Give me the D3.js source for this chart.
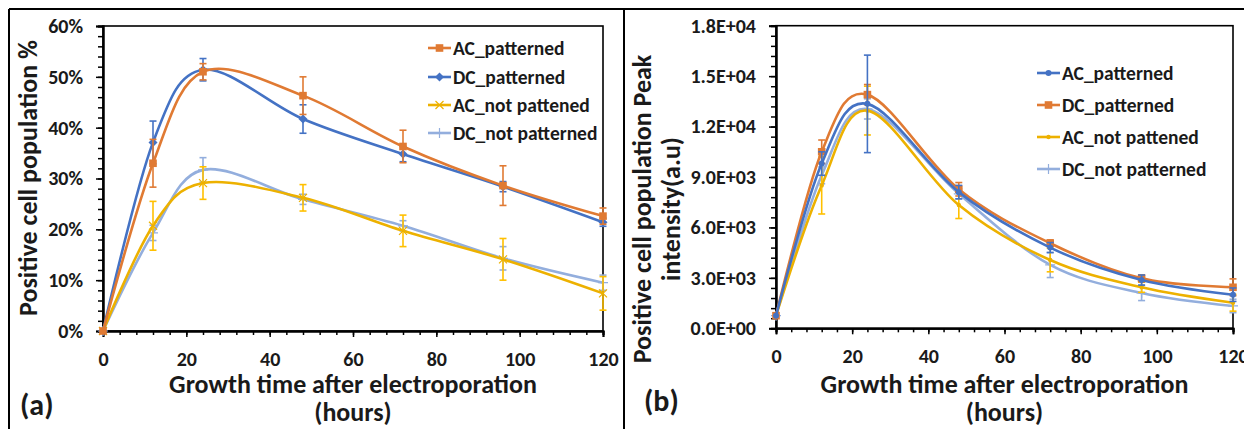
<!DOCTYPE html>
<html><head><meta charset="utf-8">
<script src="https://cdn.jsdelivr.net/npm/d3@7"></script>
<style>
body{margin:0;background:#fff;}
svg text{font-family:Carlito,Calibri,Lato,sans-serif;font-weight:bold;fill:#1a1a1a;}
</style>
</head><body><svg id="c" width="1244" height="429"></svg>
<script>
// ---------- DATA ----------
const hours = [0, 12, 24, 48, 72, 96, 120];
const seriesNames = ["AC_patterned", "DC_patterned", "AC_not pattened", "DC_not patterned"];

// Panel (a): positive cell population (%)
const aACpat = [0, 33.0, 51.0, 46.3, 36.3, 28.6, 22.6];
const aACpatErr = [0, 4.7, 1.6, 3.7, 3.2, 3.9, 1.6];
const aDCpat = [0, 37.1, 51.4, 41.7, 34.8, 28.4, 21.4];
const aDCpatErr = [0, 4.2, 2.2, 2.8, 1.5, 1.0, 0.8];
const aACnot = [0, 20.7, 29.1, 26.2, 19.7, 14.1, 7.4];
const aACnotErr = [0, 4.8, 3.2, 2.6, 3.1, 4.1, 3.3];
const aDCnot = [0, 19.3, 31.7, 25.9, 20.7, 14.3, 9.5];
const aDCnotErr = [0, 1.5, 2.4, 1.0, 1.0, 2.3, 1.5];
const aYTicks = [0, 10, 20, 30, 40, 50, 60];

// Panel (b): positive cell population peak intensity (a.u)
const bACpat = [750, 9800, 13350, 8100, 4800, 2870, 2000];
const bACpatErr = [0, 700, 2900, 400, 300, 300, 400];
const bDCpat = [750, 10500, 13900, 8270, 5060, 2970, 2440];
const bDCpatErr = [0, 700, 600, 400, 200, 200, 500];
const bACnot = [750, 8500, 12950, 7330, 4060, 2440, 1520];
const bACnotErr = [0, 1700, 1450, 800, 700, 300, 500];
const bDCnot = [750, 9100, 13050, 8000, 3770, 2100, 1330];
const bDCnotErr = [0, 500, 600, 300, 750, 450, 400];
const bYTicks = [0, 3000, 6000, 9000, 12000, 15000, 18000];

const xTicks = [0, 20, 40, 60, 80, 100, 120];

// ---------- STYLE ----------
const ORANGE = "#E07A33", BLUE = "#4472C4", GOLD = "#EDB100", GOLDERR = "#FFC000", LBLUE = "#93AEDD";

const svg = d3.select("#c");

// outer frame and divider
svg.append("line").attr("x1", 9).attr("x2", 1244).attr("y1", 9).attr("y2", 9).attr("stroke", "#000").attr("stroke-width", 2);
svg.append("line").attr("x1", 9).attr("x2", 9).attr("y1", 9).attr("y2", 429).attr("stroke", "#000").attr("stroke-width", 2);
svg.append("line").attr("x1", 624).attr("x2", 624).attr("y1", 9).attr("y2", 429).attr("stroke", "#000").attr("stroke-width", 2);

function marker(g, type, x, y, color) {
  if (type === "square") {
    g.append("rect").attr("x", x - 3.8).attr("y", y - 3.8).attr("width", 7.6).attr("height", 7.6).attr("fill", color);
  } else if (type === "diamond") {
    g.append("path").attr("d", `M${x},${y-4.5}L${x+4.5},${y}L${x},${y+4.5}L${x-4.5},${y}Z`).attr("fill", color);
  } else if (type === "x") {
    g.append("path").attr("d", `M${x-4},${y-4}L${x+4},${y+4}M${x-4},${y+4}L${x+4},${y-4}`).attr("stroke", color).attr("stroke-width", 1.2).attr("fill", "none");
  } else if (type === "plus") {
    g.append("path").attr("d", `M${x-5},${y}L${x+5},${y}M${x},${y-5}L${x},${y+5}`).attr("stroke", color).attr("stroke-width", 1.2).attr("fill", "none");
  } else if (type === "circle") {
    g.append("circle").attr("cx", x).attr("cy", y).attr("r", 3).attr("fill", color);
  } else if (type === "dot") {
    g.append("circle").attr("cx", x).attr("cy", y).attr("r", 2.2).attr("fill", color);
  }
}

function panel(cfg) {
  const x = d3.scaleLinear().domain([0, 120]).range([cfg.x0, cfg.x1]);
  const y = d3.scaleLinear().domain([0, cfg.yMax]).range([cfg.y0, cfg.y1]);
  const g = svg.append("g");

  // plot area frame
  g.append("rect").attr("x", cfg.x0).attr("y", cfg.y1).attr("width", cfg.x1 - cfg.x0).attr("height", cfg.y0 - cfg.y1)
    .attr("fill", "none").attr("stroke", "#000").attr("stroke-width", 1.6);

  // y axis (major + minor ticks)
  const yMinor = d3.range(0, cfg.yMax + 1e-9, cfg.yMax / 30);
  const yAxMinor = d3.axisLeft(y).tickValues(yMinor).tickSize(5).tickFormat("");
  const yAxMajor = d3.axisLeft(y).tickValues(cfg.yTicks).tickSize(7).tickPadding(13).tickFormat(cfg.yFmt);
  const ga1 = g.append("g").attr("transform", `translate(${cfg.x0},0)`).call(yAxMinor);
  const ga2 = g.append("g").attr("transform", `translate(${cfg.x0},0)`).call(yAxMajor);
  [ga1, ga2].forEach(a => { a.select(".domain").attr("stroke", "#000").attr("stroke-width", 2); a.selectAll("line").attr("stroke", "#000").attr("stroke-width", 1.5); });
  ga2.selectAll("text").style("font-size", cfg.tickFont + "px").attr("fill", "#1a1a1a");

  // x axis
  const xMinor = d3.range(0, 121, 4);
  const xAxMinor = d3.axisBottom(x).tickValues(xMinor).tickSize(4).tickFormat("");
  const xAxMajor = d3.axisBottom(x).tickValues(xTicks).tickSize(6).tickPadding(15).tickFormat(d3.format("d"));
  const gx1 = g.append("g").attr("transform", `translate(0,${cfg.y0})`).call(xAxMinor);
  const gx2 = g.append("g").attr("transform", `translate(0,${cfg.y0})`).call(xAxMajor);
  [gx1, gx2].forEach(a => { a.select(".domain").attr("stroke", "#000").attr("stroke-width", 2); a.selectAll("line").attr("stroke", "#000").attr("stroke-width", 1.5); });
  gx2.selectAll("text").style("font-size", cfg.tickFont + "px").attr("fill", "#1a1a1a");

  // series
  const line = d3.line().x((d, i) => x(hours[i])).y(d => y(d)).curve(d3.curveCardinal.tension(0));
  cfg.series.slice().reverse().forEach(s => {
    const sg = g.append("g");
    sg.append("path").datum(s.values).attr("d", line).attr("fill", "none").attr("stroke", s.color).attr("stroke-width", 2.6);
    s.values.forEach((v, i) => {
      const e = s.errs[i];
      if (e > 0) {
        const cx = x(hours[i]), ya = y(v + e), yb = y(v - e);
        sg.append("line").attr("x1", cx).attr("x2", cx).attr("y1", ya).attr("y2", yb).attr("stroke", s.errColor || s.color).attr("stroke-width", 1.6);
        sg.append("line").attr("x1", cx - 3.5).attr("x2", cx + 3.5).attr("y1", ya).attr("y2", ya).attr("stroke", s.errColor || s.color).attr("stroke-width", 1.6);
        sg.append("line").attr("x1", cx - 3.5).attr("x2", cx + 3.5).attr("y1", yb).attr("y2", yb).attr("stroke", s.errColor || s.color).attr("stroke-width", 1.6);
      }
      marker(sg, s.marker, x(hours[i]), y(v), s.markerColor || s.color);
    });
  });

  // legend
  cfg.series.forEach((s, i) => {
    const ly = cfg.legY[i];
    g.append("line").attr("x1", cfg.legX).attr("x2", cfg.legX + 23).attr("y1", ly).attr("y2", ly).attr("stroke", s.color).attr("stroke-width", 2.6);
    marker(g, s.marker, cfg.legX + 11.5, ly, s.markerColor || s.color);
    g.append("text").attr("x", cfg.legX + 25).attr("y", ly + 6.5).style("font-size", cfg.legFont + "px").text(s.name);
  });

  // axis titles
  const xc = (cfg.x0 + cfg.x1) / 2;
  g.append("text").attr("x", xc).attr("y", 393).attr("text-anchor", "middle").style("font-size", "26px").text("Growth time after electroporation");
  g.append("text").attr("x", xc).attr("y", 421).attr("text-anchor", "middle").style("font-size", "26px").text("(hours)");
  cfg.yTitle.forEach((t, i) => {
    g.append("text").attr("transform", `translate(${cfg.yTitleX[i]},${cfg.yTitleY}) rotate(-90)`).attr("text-anchor", "middle")
      .attr("dy", "0.35em").style("font-size", "26px").text(t);
  });
  g.append("text").attr("x", cfg.labX).attr("y", cfg.labY).style("font-size", "30px").text(cfg.label);
}

function sci(v) {
  if (v === 0) return "0.0E+00";
  const e = Math.floor(Math.log10(v));
  const m = v / Math.pow(10, e);
  return m.toFixed(1) + "E+" + String(e).padStart(2, "0");
}

panel({
  x0: 103, x1: 603, y0: 331, y1: 26, yMax: 60, yTicks: aYTicks, yFmt: d => d + "%", tickFont: 20,
  series: [
    { name: seriesNames[0], values: aACpat, errs: aACpatErr, color: ORANGE, marker: "square" },
    { name: seriesNames[1], values: aDCpat, errs: aDCpatErr, color: BLUE, marker: "diamond" },
    { name: seriesNames[2], values: aACnot, errs: aACnotErr, color: GOLD, errColor: GOLDERR, marker: "x" },
    { name: seriesNames[3], values: aDCnot, errs: aDCnotErr, color: LBLUE, marker: "plus" }
  ],
  legX: 428, legY: [48, 77, 105, 133], legFont: 19.5,
  yTitle: ["Positive cell population %"], yTitleX: [28], yTitleY: 178,
  label: "(a)", labX: 20, labY: 415
});

panel({
  x0: 776, x1: 1233, y0: 328.3, y1: 25.7, yMax: 18000, yTicks: bYTicks, yFmt: sci, tickFont: 20,
  series: [
    { name: seriesNames[0], values: bACpat, errs: bACpatErr, color: BLUE, marker: "circle" },
    { name: seriesNames[1], values: bDCpat, errs: bDCpatErr, color: ORANGE, marker: "square" },
    { name: seriesNames[2], values: bACnot, errs: bACnotErr, color: GOLD, errColor: GOLDERR, marker: "dot" },
    { name: seriesNames[3], values: bDCnot, errs: bDCnotErr, color: LBLUE, marker: "plus" }
  ],
  legX: 1037, legY: [73, 105, 137, 169], legFont: 19.5,
  yTitle: ["Positive cell population Peak", "intensity(a.u)"], yTitleX: [642, 671], yTitleY: 209,
  label: "(b)", labX: 644, labY: 411
});
</script></body></html>
